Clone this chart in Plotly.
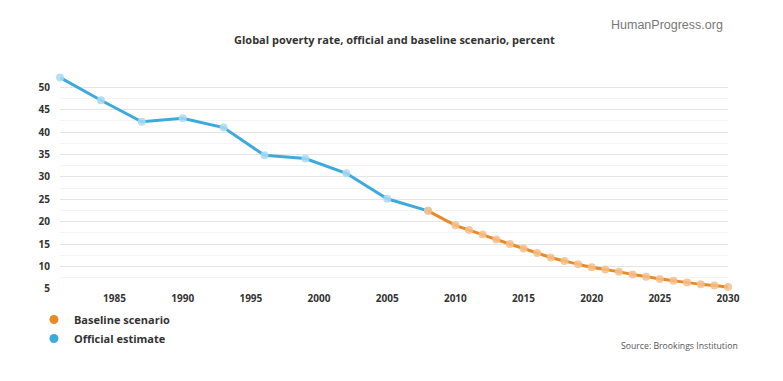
import plotly.graph_objects as go

official_years = [1981, 1984, 1987, 1990, 1993, 1996, 1999, 2002, 2005, 2008]
official_values = [52.2, 47.1, 42.3, 43.1, 41.0, 34.8, 34.1, 30.8, 25.1, 22.4]

baseline_years = [2008, 2010, 2011, 2012, 2013, 2014, 2015, 2016, 2017, 2018, 2019,
                  2020, 2021, 2022, 2023, 2024, 2025, 2026, 2027, 2028, 2029, 2030]
baseline_values = [22.4, 19.2, 18.1, 17.1, 16.0, 15.0, 14.0, 13.0, 12.0, 11.2, 10.5,
                   9.8, 9.3, 8.8, 8.2, 7.7, 7.2, 6.8, 6.4, 6.0, 5.75, 5.4]

x_ticks = [1985, 1990, 1995, 2000, 2005, 2010, 2015, 2020, 2025, 2030]
y_ticks = [5, 10, 15, 20, 25, 30, 35, 40, 45, 50]

BLUE = "#3eaadc"
ORANGE = "#e88b26"
FONT = "Open Sans"

fig = go.Figure()

fig.add_trace(go.Scatter(
    x=official_years, y=official_values, mode="lines+markers",
    line=dict(color=BLUE, width=3),
    marker=dict(size=8, color="rgba(170,218,242,0.85)"),
    showlegend=False, cliponaxis=False, hoverinfo="x+y"))

fig.add_trace(go.Scatter(
    x=baseline_years, y=baseline_values, mode="lines+markers",
    line=dict(color=ORANGE, width=3, shape="spline", smoothing=0.5),
    marker=dict(size=8, color="rgba(244,192,140,0.85)"),
    showlegend=False, cliponaxis=False, hoverinfo="x+y"))

# legend-only entries (dots)
fig.add_trace(go.Scatter(x=[None], y=[None], mode="markers", name="Baseline scenario",
                         marker=dict(size=9, color=ORANGE)))
fig.add_trace(go.Scatter(x=[None], y=[None], mode="markers", name="Official estimate",
                         marker=dict(size=9, color=BLUE)))

fig.update_layout(
    width=783, height=381,
    margin=dict(l=52, r=63, t=69, b=100, autoexpand=False),
    paper_bgcolor="white", plot_bgcolor="white",
    font=dict(family=FONT, color="#333333"),
    showlegend=True,
    legend=dict(x=-0.039, y=-0.0756, xanchor="left", yanchor="top",
                xref="paper", yref="paper",
                orientation="v", itemwidth=30, tracegroupgap=0,
                font=dict(size=11, color="#333333", family=FONT, weight="bold"),
                bgcolor="rgba(0,0,0,0)"),
    xaxis=dict(
        range=[1981, 2030], tickvals=x_ticks, ticktext=[str(v) for v in x_ticks],
        showgrid=False, zeroline=False, showline=False, ticks="",
        ticklabelstandoff=2,
        tickfont=dict(size=10, color="#333333", family=FONT, weight="bold"),
    ),
    yaxis=dict(
        range=[4.95, 52.3], tickvals=y_ticks, ticktext=[str(v) for v in y_ticks],
        showgrid=True, gridcolor="#e4e4e4", gridwidth=1,
        zeroline=False, showline=False, ticks="",
        ticklabelstandoff=9,
        tickfont=dict(size=10, color="#333333", family=FONT, weight="bold"),
        minor=dict(dtick=2.5, tick0=0, showgrid=True, gridcolor="#f3f3f3", gridwidth=1),
    ),
    annotations=[
        dict(text="Global poverty rate, official and baseline scenario, percent",
             xref="paper", yref="paper", x=0.5, y=1, xshift=0, yshift=38,
             showarrow=False, xanchor="center", yanchor="middle",
             font=dict(size=11, color="#333333", family=FONT, weight="bold")),
        dict(text="HumanProgress.org", xref="paper", yref="paper", x=1, y=1,
             xshift=-3, yshift=52, showarrow=False, xanchor="right", yanchor="middle",
             font=dict(size=12.5, color="#777777", family="Liberation Sans")),
        dict(text="Source: Brookings Institution", xref="paper", yref="paper", x=1, y=0,
             xshift=12, yshift=-57, showarrow=False, xanchor="right", yanchor="middle",
             font=dict(size=8.7, color="#555555", family=FONT)),
    ],
)

fig.write_html("out.html")
